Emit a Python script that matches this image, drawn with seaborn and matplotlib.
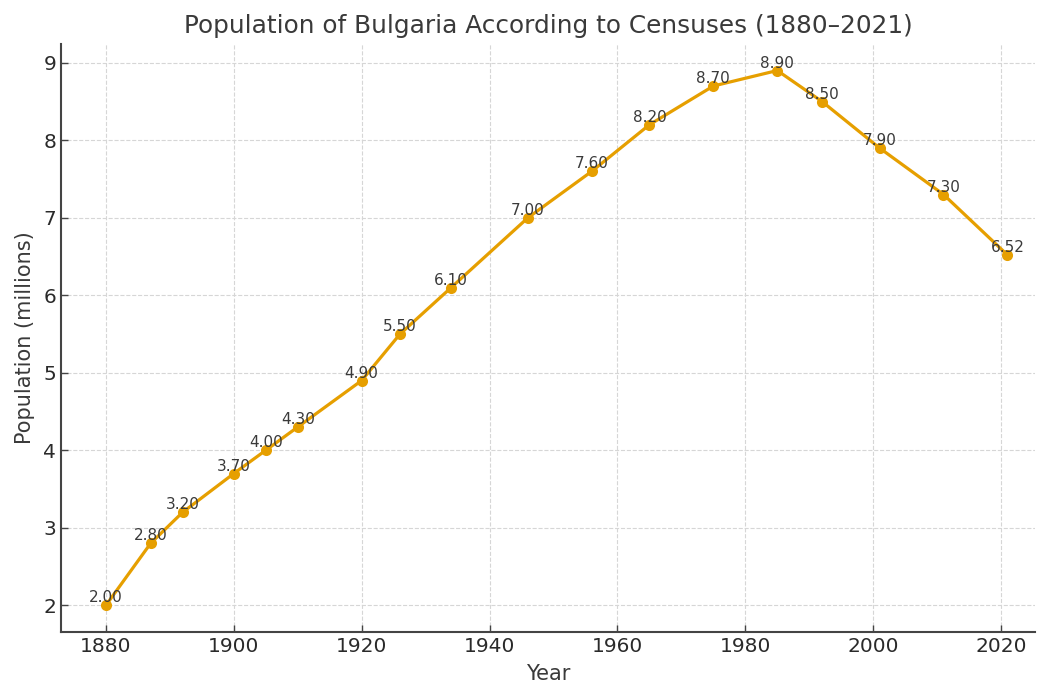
import matplotlib
matplotlib.use("Agg")
import matplotlib.pyplot as plt
import seaborn as sns
import pandas as pd

# Census years and population (millions)
years = [1880, 1887, 1892, 1900, 1905, 1910, 1920, 1926, 1934, 1946,
         1956, 1965, 1975, 1985, 1992, 2001, 2011, 2021]
population = [2.00, 2.80, 3.20, 3.70, 4.00, 4.30, 4.90, 5.50, 6.10, 7.00,
              7.60, 8.20, 8.70, 8.90, 8.50, 7.90, 7.30, 6.52]

df = pd.DataFrame({"Year": years, "Population": population})

sns.set_theme(style="ticks")
plt.rcParams["font.family"] = ["DejaVu Sans"]
text_color = "#3a3a3a"
line_color = "#E69F00"

fig, ax = plt.subplots(figsize=(10.37, 6.84), dpi=100)
fig.subplots_adjust(left=0.059, right=0.998, top=0.936, bottom=0.076)

sns.lineplot(data=df, x="Year", y="Population", ax=ax, color=line_color,
             linewidth=2.3, marker="o", markersize=8, markeredgewidth=0)

for x, y in zip(years, population):
    ax.annotate(f"{y:.2f}", (x, y), xytext=(0, 0), textcoords="offset points",
                ha="center", va="bottom", fontsize=11, color=text_color)

ax.set_title("Population of Bulgaria According to Censuses (1880\u20132021)",
             fontsize=17.8, color=text_color, pad=8)
ax.set_xlabel("Year", fontsize=15, color=text_color, labelpad=6)
ax.set_ylabel("Population (millions)", fontsize=15, color=text_color, labelpad=6)

ax.set_xlim(1873, 2025.3)
ax.set_ylim(1.655, 9.245)
ax.set_xticks(range(1880, 2021, 20))
ax.set_yticks(range(2, 10))
ax.tick_params(axis="both", labelsize=14.5, labelcolor="#2a2a2a", direction="in",
               length=5, width=1, color="#444444")

ax.grid(True, linestyle="--", color="#d6d6d6", linewidth=0.8)
for side in ("top", "right"):
    ax.spines[side].set_visible(False)
for side in ("left", "bottom"):
    ax.spines[side].set_color("#444444")
    ax.spines[side].set_linewidth(1.5)

fig.savefig("out.png", dpi=100)
